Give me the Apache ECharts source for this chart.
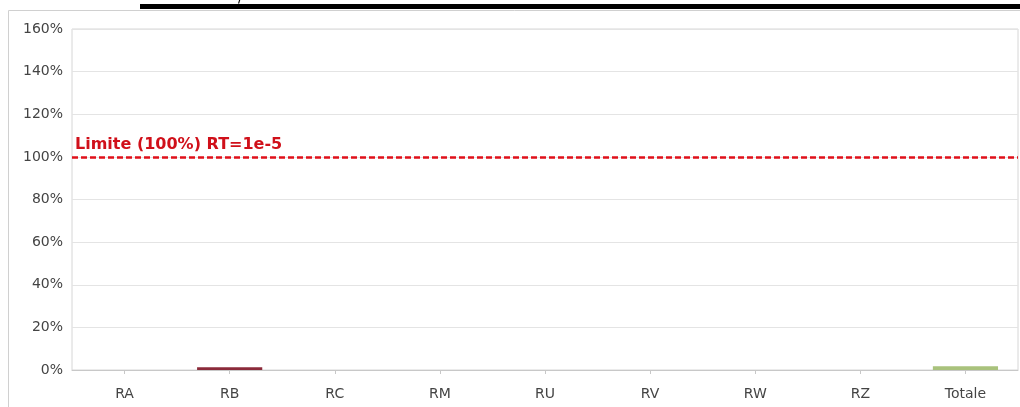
<!DOCTYPE html>
<html><head><meta charset="utf-8">
<script src="https://cdn.jsdelivr.net/npm/echarts@6/dist/echarts.min.js"></script>
<style>html,body{margin:0;padding:0;background:#fff}#c{width:1020px;height:407px}</style>
</head><body><div id="c"></div>
<script>
const categories = ['RA','RB','RC','RM','RU','RV','RW','RZ','Totale'];
const values = [0, 1.3, 0, 0, 0, 0, 0, 0, 1.8];
const barColors = ['#8b2a3a','#8b2a3a','#8b2a3a','#8b2a3a','#8b2a3a','#8b2a3a','#8b2a3a','#8b2a3a','#a9c27c'];
const limitValue = 100;
const limitLabel = 'Limite (100%) RT=1e-5';
const yTicks = [0,20,40,60,80,100,120,140,160];

const chart = echarts.init(document.getElementById('c'));
chart.setOption({
  animation:false,
  graphic:[
    {type:'rect', shape:{x:8.5,y:10.5,width:1030,height:420}, style:{fill:'none',stroke:'#d0d0d0',lineWidth:1}, z:0},
    {type:'rect', shape:{x:140,y:4,width:880,height:5}, style:{fill:'#000'}, z:10},
    {type:'text', x:238, y:-9, style:{text:'/', font:'14px "DejaVu Sans"', fill:'#000'}, z:10}
  ],
  grid:{left:72,right:2,top:29,bottom:37,show:true,borderColor:'#d6d6d6',borderWidth:1},
  xAxis:{type:'category',data:categories,
    axisLine:{show:true,lineStyle:{color:'#c8c8c8'}},
    axisTick:{show:true,alignWithLabel:true,length:4,lineStyle:{color:'#c8c8c8'}},
    axisLabel:{color:'#444',fontFamily:'DejaVu Sans',fontSize:14,margin:17}},
  yAxis:{type:'value',min:yTicks[0],max:yTicks[yTicks.length-1],interval:20,
    axisLine:{show:false},axisTick:{show:false},
    axisLabel:{formatter:'{value}%',color:'#444',fontFamily:'DejaVu Sans',fontSize:14,margin:9},
    splitLine:{lineStyle:{color:'#e4e4e4'}}},
  series:[{type:'bar',barWidth:'62%',
    data:values.map((v,i)=>({value:v,itemStyle:{color:barColors[i]}})),
    markLine:{silent:true,symbol:'none',
      lineStyle:{color:'#e0101a',type:[6,3],width:2.5},
      label:{show:true,position:'insideStartTop',formatter:limitLabel,color:'#d0101a',fontWeight:'bold',fontFamily:'DejaVu Sans',fontSize:16,distance:[3,4]},
      data:[{yAxis:limitValue}]}
  }]
});
</script></body></html>
